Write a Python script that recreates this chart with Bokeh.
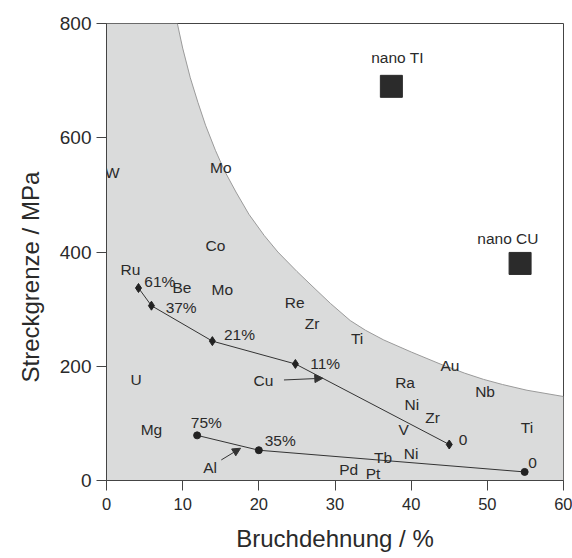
from bokeh.plotting import figure
from bokeh.models import Range1d, Title, Arrow, NormalHead, FixedTicker
from bokeh.embed import file_html
from bokeh.resources import INLINE
from bokeh.core.properties import value

FONT = "Liberation Sans"

# boundary curve of the grey region
curve_x = [9.3, 10.0, 11.0, 12.0, 13.0, 14.3, 15.5, 17.0, 18.7, 20.7, 22.5, 25.0,
           27.5, 29.4, 32.0, 34.0, 36.4, 40.0, 43.8, 47.0, 49.5, 52.0, 55.2, 60.0]
curve_y = [800, 757, 705, 662, 622, 578, 542, 505, 466, 429, 400, 366,
           334, 310, 280, 263, 246, 225, 204, 188, 177, 168, 158, 147]

# Cu (cold worked) series
cu_x = [4.2, 5.9, 13.9, 24.8, 45.0]
cu_y = [337, 306, 244, 204, 63]
# Al series
al_x = [11.9, 20.0, 54.9]
al_y = [79, 53, 15]

# nano materials
nano_x = [37.4, 54.3]
nano_y = [690, 380]
nano_labels = ["nano TI", "nano CU"]
nano_label_x = [38.2, 52.7]
nano_label_y = [740, 424]

# element labels
elem_labels = ["W", "Mo", "Co", "Ru", "Be", "Mo", "Re", "Zr", "Ti", "Cu", "U", "Au",
               "Ra", "Nb", "Ni", "Zr", "V", "Ti", "Mg", "Al", "Tb", "Ni", "Pd", "Pt"]
elem_x = [0.75, 15.0, 14.3, 3.15, 9.9, 15.2, 24.7, 27.0, 32.9, 20.6, 3.9, 45.1,
          39.2, 49.7, 40.1, 42.8, 39.0, 55.2, 5.9, 13.6, 36.3, 40.0, 31.8, 35.0]
elem_y = [539, 548, 411, 369, 337, 334, 312, 275, 248, 175, 176, 201,
          172, 155, 133, 111, 89, 92, 90, 23, 41, 47, 20, 12]

# cold-work percentage labels
pct_labels = ["61%", "37%", "21%", "11%", "0", "75%", "35%", "0"]
pct_x = [7.0, 9.8, 17.45, 28.7, 46.8, 13.1, 22.8, 55.95]
pct_y = [349, 303, 255, 205, 71, 101, 70, 30]

# arrows (start -> end)
arrow_x0 = [23.3, 15.07]
arrow_y0 = [176, 36]
arrow_x1 = [28.4, 17.6]
arrow_y1 = [179, 56.5]

x_ticks = [0, 10, 20, 30, 40, 50, 60]
y_ticks = [0, 200, 400, 600, 800]

p = figure(width=572, height=558, x_range=Range1d(0, 60), y_range=Range1d(0, 800),
           output_backend="svg", toolbar_location=None,
           min_border_left=106, min_border_right=9, min_border_top=23, min_border_bottom=78)
p.background_fill_color = "white"
p.border_fill_color = "white"
p.outline_line_color = "#444444"
p.outline_line_width = 1
p.grid.visible = False

# grey region
region_x = [0, 0] + curve_x + [60, 60]
region_y = [0, 800] + curve_y + [curve_y[-1], 0]
p.patch(region_x, region_y, fill_color="#dadbdb", line_color=None)
p.line(curve_x, curve_y, line_color="#9a9a9a", line_width=1)

# series
p.line(cu_x, cu_y, line_color="#333333", line_width=1)
p.scatter(cu_x, cu_y, marker="diamond", size=9, fill_color="#222222", line_color="#222222")
p.line(al_x, al_y, line_color="#333333", line_width=1)
p.scatter(al_x, al_y, marker="circle", size=7, fill_color="#222222", line_color="#222222")

# nano squares
p.scatter(nano_x, nano_y, marker="square", size=22, fill_color="#2b2b2b", line_color="#2b2b2b")

# arrows
for xs, ys, xe, ye in zip(arrow_x0, arrow_y0, arrow_x1, arrow_y1):
    p.add_layout(Arrow(end=NormalHead(size=8, fill_color="#333333", line_color="#333333"),
                       x_start=xs, y_start=ys, x_end=xe, y_end=ye,
                       line_color="#333333", line_width=1))

txt_kw = dict(text_font=value(FONT), text_font_size="15.5px", text_color="#2a2a2a",
              text_align="center", text_baseline="middle")
p.text(x=elem_x, y=elem_y, text=elem_labels, **txt_kw)
p.text(x=pct_x, y=pct_y, text=pct_labels, **txt_kw)
p.text(x=nano_label_x, y=nano_label_y, text=nano_labels, **txt_kw)

# axes
for ax in (p.xaxis[0], p.yaxis[0]):
    ax.major_tick_out = 10
    ax.major_tick_in = 0
    ax.minor_tick_line_color = None
    ax.axis_line_color = "#444444"
    ax.major_tick_line_color = "#444444"
    ax.major_label_text_font = FONT
    ax.major_label_text_color = "#2a2a2a"

p.xaxis.ticker = FixedTicker(ticks=x_ticks)
p.yaxis.ticker = FixedTicker(ticks=y_ticks)
p.xaxis.major_label_text_font_size = "16.5px"
p.yaxis.major_label_text_font_size = "19px"
p.xaxis.major_label_standoff = 7
p.yaxis.major_label_standoff = 5

p.xaxis.axis_label = "Bruchdehnung / %"
p.xaxis.axis_label_text_font = FONT
p.xaxis.axis_label_text_font_style = "normal"
p.xaxis.axis_label_text_font_size = "24px"
p.xaxis.axis_label_text_color = "#2a2a2a"
p.xaxis.axis_label_standoff = 12

# y-axis title as a side title (allows shifting along the axis)
ytitle = Title(text="Streckgrenze / MPa", align="left", offset=98, standoff=26,
               text_font=FONT, text_font_size="24px", text_font_style="normal",
               text_color="#2a2a2a")
p.add_layout(ytitle, "left")

open("out.html", "w").write(file_html(p, INLINE))
